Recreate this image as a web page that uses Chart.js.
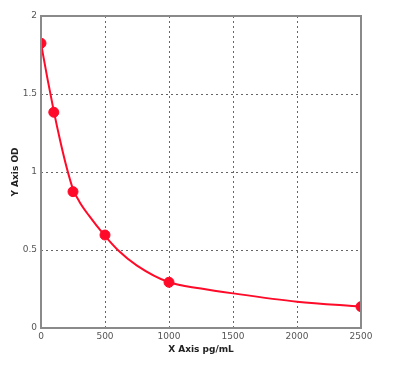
<!DOCTYPE html>
<html>
<head>
<script src="https://cdn.jsdelivr.net/npm/chart.js"></script>
<style>
  html, body { margin: 0; padding: 0; background: #fff; }
  #wrap { width: 398px; height: 376px; }
</style>
</head>
<body>
<div id="wrap">
  <canvas id="myChart" width="398" height="376"></canvas>
</div>
<script>

    // standards (measured points)
    const concentrations = [0, 100, 250, 500, 1000, 2500];
    const odValues = [1.825, 1.383, 0.874, 0.596, 0.293, 0.137];

    // fitted curve
    const fitX = [0, 50, 100, 150, 200, 250, 300, 375, 500, 600, 750, 1000, 1250, 1500, 2000, 2500];
    const fitY = [1.825, 1.6, 1.39, 1.2, 1.03, 0.89, 0.81, 0.72, 0.59, 0.5, 0.4, 0.293, 0.253, 0.222, 0.169, 0.137];

    const xTicks = [0, 500, 1000, 1500, 2000, 2500];
    const yTicks = [0, 0.5, 1, 1.5, 2];

    const points = concentrations.map((c, i) => ({ x: c, y: odValues[i] }));
    const curve = fitX.map((c, i) => ({ x: c, y: fitY[i] }));

    const red = 'rgb(255, 10, 40)';

    // grey frame round the plot area
    const frame = {
        id: 'frame',
        afterDraw(chart) {
            const { ctx, chartArea: { left, top, right, bottom } } = chart
            ctx.save()
            ctx.strokeStyle = '#8a8a8a'
            ctx.lineWidth = 2
            ctx.strokeRect(left, top, right - left, bottom - top)
            ctx.restore()
        },
    };

    const tickFont = { family: 'DejaVu Sans', size: 9 };
    const titleFont = { family: 'DejaVu Sans', size: 9, weight: 'bold' };

    const config = {
        type: 'line',
        data: {
            datasets: [{
                label: 'Fit',
                data: curve,
                borderColor: red,
                borderWidth: 2,
                pointRadius: 0,
                cubicInterpolationMode: 'monotone',
                fill: false,
                order: 2,
            }, {
                label: 'OD',
                data: points,
                borderColor: red,
                backgroundColor: red,
                showLine: false,
                pointRadius: 5,
                pointHoverRadius: 5,
                order: 1,
            }]
        },
        options: {
            responsive: false,
            animation: false,
            layout: {
                padding: { left: 4, top: 16, right: 37, bottom: 18 }
            },
            plugins: {
                legend: { display: false },
                tooltip: { enabled: false },
            },
            scales: {
                x: {
                    type: 'linear',
                    min: 0,
                    max: 2500,
                    afterBuildTicks(scale) {
                        scale.ticks = xTicks.map(v => ({ value: v }))
                    },
                    afterFit(scale) {
                        scale.height = 30
                    },
                    grid: {
                        color: '#666',
                        lineWidth: 1,
                        drawTicks: false,
                    },
                    border: { display: false, dash: [2, 3] },
                    ticks: {
                        color: '#555',
                        font: tickFont,
                        padding: 3,
                        maxRotation: 0,
                        autoSkip: false,
                        callback: v => String(v),
                    },
                    title: {
                        display: true,
                        text: 'X Axis pg/mL',
                        color: '#222',
                        font: titleFont,
                        padding: { top: 0, bottom: 3 },
                    },
                },
                y: {
                    type: 'linear',
                    min: 0,
                    max: 2,
                    afterBuildTicks(scale) {
                        scale.ticks = yTicks.map(v => ({ value: v }))
                    },
                    afterFit(scale) {
                        scale.width = 37
                    },
                    grid: {
                        color: '#666',
                        lineWidth: 1,
                        drawTicks: false,
                    },
                    border: { display: false, dash: [2, 3] },
                    ticks: {
                        color: '#555',
                        font: tickFont,
                        padding: 4,
                        autoSkip: false,
                        callback: v => String(v),
                    },
                    title: {
                        display: true,
                        text: 'Y Axis OD',
                        color: '#222',
                        font: titleFont,
                        padding: { top: 6, bottom: 6 },
                    },
                },
            },
        },
        plugins: [frame]
    };

    const myChart = new Chart(document.getElementById('myChart'), config);
</script>
</body>
</html>
